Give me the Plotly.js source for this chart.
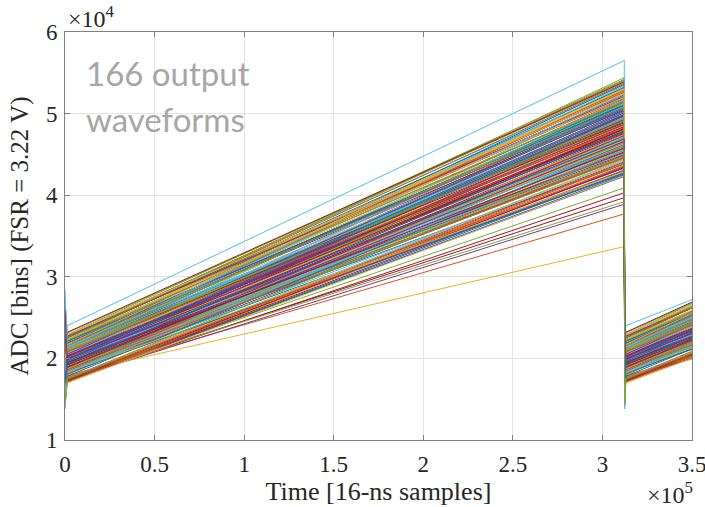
<!DOCTYPE html>
<html>
<head>
<meta charset="utf-8">
<script src="https://cdn.plot.ly/plotly-3.0.1.min.js"></script>
<style>html,body{margin:0;padding:0;background:#fff;}#chart{width:705px;height:507px;}</style>
</head>
<body>
<div id="chart"></div>
<script>
// Time sample positions (x 10^5 samples): reset glitch, ramp start, ramp end, reset dip, ramp restart, window end
const timeKnots = [0, 0.012, 3.122, 3.124, 3.13, 3.5];

// ADC values (x 10^4 bins), one entry per waveform (166 waveforms)
const peakVals = [
4.62,5.10,4.85,4.41,5.28,4.70,4.95,4.33,5.02,4.58,
4.88,4.09,5.35,4.67,4.46,5.18,4.79,4.25,4.93,5.06,
4.52,4.74,5.41,3.37,4.60,4.98,5.22,4.03,4.38,4.83,
5.13,4.49,4.71,5.30,4.90,4.28,4.64,5.00,4.77,5.25,
4.44,4.86,5.16,4.55,4.97,4.35,5.38,4.68,4.81,5.08,
3.77,4.59,5.20,4.73,4.42,5.04,4.89,4.31,5.33,4.66,
4.94,5.12,4.50,4.78,5.26,4.37,4.84,5.44,4.61,4.99,
4.23,5.15,4.72,3.89,5.07,4.54,4.91,5.36,4.47,4.80,
5.23,4.65,4.96,4.30,5.11,4.75,5.31,4.57,4.87,5.02,
3.97,4.69,5.19,4.43,4.92,3.92,5.09,4.82,4.26,5.27,
4.63,4.98,5.40,4.51,4.76,5.14,4.39,4.88,5.21,4.70,
4.95,4.34,5.32,4.60,4.85,5.05,4.45,5.17,4.79,4.27,
5.29,4.67,4.93,5.42,4.56,4.81,5.10,4.36,4.74,5.01,
4.48,5.24,4.89,4.62,5.37,4.29,4.97,5.13,4.71,4.84,
5.06,4.40,5.20,4.66,4.94,5.34,4.53,4.78,5.08,4.24,
4.87,5.16,4.61,5.39,4.99,4.46,5.25,4.73,4.91,5.65,
4.58,5.03,4.83,5.30,4.69,4.55];

const startVals = [
1.94,2.03,2.09,1.76,2.26,1.82,2.06,1.85,2.01,1.87,
1.91,1.76,2.28,1.86,1.90,2.12,2.02,1.71,2.13,2.06,
1.91,1.83,2.26,1.80,1.82,2.05,2.06,1.73,1.90,1.93,
2.20,1.81,1.98,2.12,2.12,1.71,1.97,1.95,1.98,2.26,
1.75,2.00,2.03,1.90,2.17,1.72,2.31,1.90,2.02,2.02,
1.78,1.85,2.22,1.83,1.82,2.17,1.95,1.75,2.11,1.95,
2.15,2.06,1.92,1.94,2.23,1.70,2.09,2.23,1.95,1.95,
1.73,2.22,1.87,1.74,1.99,1.89,2.14,2.17,1.90,1.95,
2.21,1.82,2.14,1.72,2.18,1.84,2.22,1.96,1.94,2.07,
1.76,1.96,2.27,1.75,2.10,1.77,2.15,1.90,1.83,2.15,
1.96,1.94,2.26,1.93,1.89,2.12,1.71,2.05,2.27,1.88,
2.12,1.74,2.25,1.80,2.09,2.05,1.88,2.03,1.99,1.82,
2.13,1.91,1.93,2.29,1.98,1.92,2.19,1.75,1.99,1.98,
1.93,2.14,2.08,1.78,2.25,1.83,1.99,2.12,1.83,2.03,
2.21,1.74,2.23,1.89,2.08,2.13,1.95,1.93,2.17,1.70,
2.02,2.22,1.82,2.32,1.96,1.86,2.29,1.89,2.10,2.40,
1.92,1.99,2.08,2.17,1.99,1.75];

const endVals = [
2.26,2.40,2.42,2.08,2.62,2.17,2.41,2.15,2.37,2.20,
2.27,2.04,2.65,2.20,2.21,2.49,2.35,2.01,2.47,2.42,
2.22,2.18,2.64,1.99,2.15,2.40,2.44,2.01,2.20,2.28,
2.55,2.13,2.31,2.50,2.45,2.02,2.29,2.32,2.31,2.62,
2.07,2.34,2.41,2.22,2.51,2.04,2.68,2.23,2.35,2.39,
2.02,2.18,2.58,2.18,2.13,2.51,2.30,2.06,2.50,2.28,
2.48,2.43,2.23,2.28,2.59,2.02,2.42,2.62,2.27,2.31,
2.03,2.57,2.21,2.00,2.36,2.21,2.47,2.55,2.21,2.29,
2.57,2.16,2.48,2.03,2.53,2.19,2.59,2.27,2.29,2.42,
2.03,2.29,2.62,2.07,2.44,2.03,2.50,2.25,2.12,2.52,
2.28,2.30,2.64,2.24,2.23,2.48,2.03,2.39,2.62,2.22,
2.46,2.05,2.62,2.14,2.42,2.41,2.19,2.41,2.33,2.11,
2.51,2.24,2.29,2.67,2.29,2.27,2.54,2.06,2.32,2.34,
2.24,2.51,2.42,2.12,2.62,2.13,2.35,2.48,2.18,2.37,
2.55,2.06,2.59,2.22,2.42,2.52,2.26,2.27,2.52,2.00,
2.36,2.57,2.15,2.69,2.32,2.17,2.65,2.23,2.44,2.72,
2.24,2.35,2.41,2.55,2.31,2.09];

// Reset glitch level (first sample and bottom of each reset)
const glitchVals = [
1.79,2.33,1.84,1.81,1.91,2.27,1.96,2.05,1.71,1.97,
1.71,2.36,2.23,1.46,2.05,1.84,2.37,1.56,2.43,1.81,
1.96,1.48,2.71,1.70,2.02,1.75,2.16,1.53,2.50,1.88,
1.80,1.96,1.70,2.47,1.97,2.01,1.72,2.00,1.63,2.71,
1.65,2.20,1.73,2.00,1.97,2.32,2.26,1.50,2.17,1.74,
2.13,1.70,2.52,1.58,1.87,1.82,2.40,1.65,2.31,1.65,
2.25,1.86,2.52,1.89,1.83,1.85,1.81,2.58,1.80,2.25,
1.48,2.27,1.52,2.19,1.89,2.09,1.84,2.27,1.70,2.55,
2.16,1.42,2.29,1.44,2.53,1.69,2.52,1.71,1.99,1.72,
2.21,1.86,2.47,1.45,2.20,1.57,2.85,1.85,1.43,2.30,
1.68,2.29,2.11,2.23,1.64,2.17,1.40,2.50,2.17,2.08,
1.82,1.84,2.05,2.40,2.04,1.65,2.03,1.75,2.34,1.67,
2.43,1.66,1.98,1.94,2.43,1.82,2.39,1.45,2.09,1.78,
2.53,2.09,1.68,1.93,1.97,2.18,1.84,2.42,1.58,2.08,
1.86,2.19,2.13,2.09,1.78,2.23,1.75,2.53,2.12,1.41,
2.17,1.94,2.17,2.17,2.26,1.61,2.34,1.54,2.55,1.38,
2.12,1.69,2.18,1.97,2.59,1.45];

const lineColors = ['#0072BD','#D95319','#EDB120','#7E2F8E','#77AC30','#4DBEEE','#A2142F'];

const traces = peakVals.map((p, i) => ({
  type: 'scatter',
  mode: 'lines',
  x: timeKnots,
  y: [glitchVals[i], startVals[i], p, glitchVals[i], startVals[i], endVals[i]],
  line: {color: lineColors[i % lineColors.length], width: 1},
  hoverinfo: 'skip',
  showlegend: false
}));

const serif = 'Liberation Serif, Times New Roman, serif';
const axisCommon = {
  showgrid: true, gridcolor: '#e3e3e3', gridwidth: 1,
  showline: true, linecolor: '#808080', linewidth: 1, mirror: 'ticks',
  ticks: 'inside', ticklen: 5, tickcolor: '#808080',
  zeroline: false, ticklabeloverflow: 'allow',
  tickfont: {family: serif, size: 23, color: '#262626'}
};

const layout = {
  width: 705, height: 507,
  margin: {l: 65, r: 13, t: 32, b: 67},
  paper_bgcolor: '#ffffff', plot_bgcolor: '#ffffff',
  showlegend: false,
  xaxis: Object.assign({}, axisCommon, {
    range: [0, 3.5], tickvals: [0,0.5,1,1.5,2,2.5,3,3.5],
    ticktext: ['0','0.5','1','1.5','2','2.5','3','3.5'],
    ticklabelstandoff: 3,
    title: {text: 'Time [16-ns samples]', font: {family: serif, size: 26, color: '#262626'}, standoff: 2}
  }),
  yaxis: Object.assign({}, axisCommon, {
    range: [1, 6], tickvals: [1,2,3,4,5,6], ticktext: ['1','2','3','4','5','6'],
    ticklabelstandoff: 2,
    title: {text: 'ADC [bins] (FSR = 3.22 V)', font: {family: serif, size: 25, color: '#262626'}, standoff: 10}
  }),
  annotations: [
    {xref: 'paper', yref: 'paper', x: 0, y: 1, xanchor: 'left', yanchor: 'bottom', xshift: 1, yshift: -2,
     text: '×10<sup>4</sup>', showarrow: false, font: {family: serif, size: 24, color: '#262626'}},
    {xref: 'paper', yref: 'paper', x: 1, y: 0, xanchor: 'right', yanchor: 'top', xshift: 3, yshift: -36,
     text: '×10<sup>5</sup>', showarrow: false, font: {family: serif, size: 24, color: '#262626'}},
    {xref: 'paper', yref: 'paper', x: 0.031, y: 0.9, xanchor: 'left', yanchor: 'middle',
     text: '166 output', showarrow: false, font: {family: 'Lato, Noto Sans, sans-serif', size: 33, color: '#a6a6a6'}},
    {xref: 'paper', yref: 'paper', x: 0.031, y: 0.787, xanchor: 'left', yanchor: 'middle',
     text: 'waveforms', showarrow: false, font: {family: 'Lato, Noto Sans, sans-serif', size: 33, color: '#a6a6a6'}}
  ]
};

Plotly.newPlot('chart', traces, layout, {displayModeBar: false, staticPlot: true});
</script>
</body>
</html>
